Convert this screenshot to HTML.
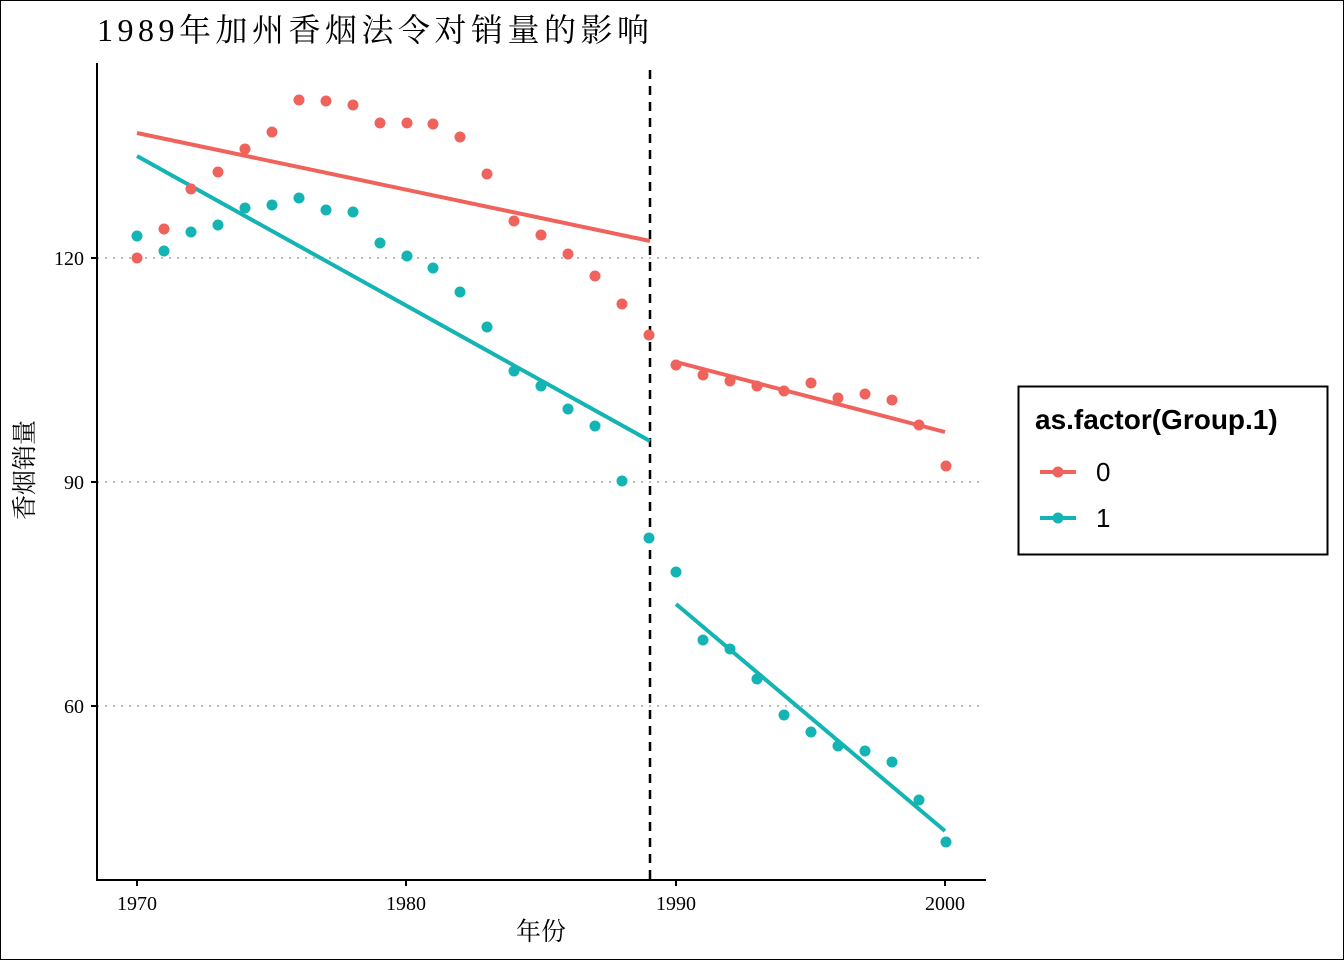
<!DOCTYPE html>
<html><head><meta charset="utf-8"><style>
body{margin:0;background:#fff}
svg text{font-family:"Liberation Serif","Noto Serif CJK SC",serif}
</style></head><body>
<svg width="1344" height="960" viewBox="0 0 1344 960" xmlns="http://www.w3.org/2000/svg">
<rect x="0.5" y="0.5" width="1343" height="959" fill="#fff" stroke="#000"/>
<text x="97" y="41" font-size="32" letter-spacing="4.5">1989年加州香烟法令对销量的影响</text>
<g stroke="#bbb" stroke-width="2" stroke-dasharray="2,6">
<line x1="97" y1="258" x2="985" y2="258"/><line x1="97" y1="482" x2="985" y2="482"/><line x1="97" y1="706" x2="985" y2="706"/>
</g>
<line x1="97" y1="63" x2="97" y2="881" stroke="#000" stroke-width="2"/>
<line x1="96" y1="880" x2="986" y2="880" stroke="#000" stroke-width="2"/>
<g stroke="#000" stroke-width="2">
<line x1="91" y1="258" x2="97" y2="258"/><line x1="91" y1="482" x2="97" y2="482"/><line x1="91" y1="706" x2="97" y2="706"/>
<line x1="137" y1="880" x2="137" y2="886"/><line x1="406" y1="880" x2="406" y2="886"/><line x1="676" y1="880" x2="676" y2="886"/><line x1="945" y1="880" x2="945" y2="886"/>
</g>
<g font-size="20" text-anchor="end"><text x="84" y="265">120</text><text x="84" y="489">90</text><text x="84" y="713">60</text></g>
<g font-size="20" text-anchor="middle"><text x="137" y="910">1970</text><text x="406" y="910">1980</text><text x="676" y="910">1990</text><text x="945" y="910">2000</text></g>
<text x="541" y="940" font-size="25" text-anchor="middle">年份</text>
<text transform="translate(33,470) rotate(-90)" font-size="25" text-anchor="middle">香烟销量</text>
<line x1="650" y1="70" x2="650" y2="880" stroke="#000" stroke-width="2.5" stroke-dasharray="9,7"/>
<g stroke-width="4">
<line x1="137" y1="133" x2="650" y2="241" stroke="#F0635C"/>
<line x1="676" y1="362" x2="945" y2="432" stroke="#F0635C"/>
<line x1="137" y1="156" x2="650" y2="441" stroke="#14B4B4"/>
<line x1="676" y1="604" x2="945" y2="831" stroke="#14B4B4"/>
</g>
<g fill="#F0635C">
<circle cx="137" cy="258" r="5.5"/><circle cx="164" cy="229" r="5.5"/><circle cx="191" cy="189" r="5.5"/><circle cx="218" cy="172" r="5.5"/><circle cx="245" cy="149" r="5.5"/><circle cx="272" cy="132" r="5.5"/><circle cx="299" cy="100" r="5.5"/><circle cx="326" cy="101" r="5.5"/><circle cx="353" cy="105" r="5.5"/><circle cx="380" cy="123" r="5.5"/><circle cx="407" cy="123" r="5.5"/><circle cx="433" cy="124" r="5.5"/><circle cx="460" cy="137" r="5.5"/><circle cx="487" cy="174" r="5.5"/><circle cx="514" cy="221" r="5.5"/><circle cx="541" cy="235" r="5.5"/><circle cx="568" cy="254" r="5.5"/><circle cx="595" cy="276" r="5.5"/><circle cx="622" cy="304" r="5.5"/><circle cx="649" cy="335" r="5.5"/><circle cx="676" cy="365" r="5.5"/><circle cx="703" cy="375" r="5.5"/><circle cx="730" cy="381" r="5.5"/><circle cx="757" cy="386" r="5.5"/><circle cx="784" cy="391" r="5.5"/><circle cx="811" cy="383" r="5.5"/><circle cx="838" cy="398" r="5.5"/><circle cx="865" cy="394" r="5.5"/><circle cx="892" cy="400" r="5.5"/><circle cx="919" cy="425" r="5.5"/><circle cx="946" cy="466" r="5.5"/>
</g>
<g fill="#14B4B4">
<circle cx="137" cy="236" r="5.5"/><circle cx="164" cy="251" r="5.5"/><circle cx="191" cy="232" r="5.5"/><circle cx="218" cy="225" r="5.5"/><circle cx="245" cy="208" r="5.5"/><circle cx="272" cy="205" r="5.5"/><circle cx="299" cy="198" r="5.5"/><circle cx="326" cy="210" r="5.5"/><circle cx="353" cy="212" r="5.5"/><circle cx="380" cy="243" r="5.5"/><circle cx="407" cy="256" r="5.5"/><circle cx="433" cy="268" r="5.5"/><circle cx="460" cy="292" r="5.5"/><circle cx="487" cy="327" r="5.5"/><circle cx="514" cy="371" r="5.5"/><circle cx="541" cy="386" r="5.5"/><circle cx="568" cy="409" r="5.5"/><circle cx="595" cy="426" r="5.5"/><circle cx="622" cy="481" r="5.5"/><circle cx="649" cy="538" r="5.5"/><circle cx="676" cy="572" r="5.5"/><circle cx="703" cy="640" r="5.5"/><circle cx="730" cy="649" r="5.5"/><circle cx="757" cy="679" r="5.5"/><circle cx="784" cy="715" r="5.5"/><circle cx="811" cy="732" r="5.5"/><circle cx="838" cy="746" r="5.5"/><circle cx="865" cy="751" r="5.5"/><circle cx="892" cy="762" r="5.5"/><circle cx="919" cy="800" r="5.5"/><circle cx="946" cy="842" r="5.5"/>
</g>
<rect x="1018.5" y="386.5" width="309" height="168" fill="#fff" stroke="#000" stroke-width="2"/>
<text x="1035" y="429" font-weight="bold" font-size="28" style="font-family:'Liberation Sans',sans-serif">as.factor(Group.1)</text>
<line x1="1040" y1="472" x2="1076" y2="472" stroke="#F0635C" stroke-width="4"/><circle cx="1058" cy="472" r="5.5" fill="#F0635C"/>
<line x1="1040" y1="518" x2="1076" y2="518" stroke="#14B4B4" stroke-width="4"/><circle cx="1058" cy="518" r="5.5" fill="#14B4B4"/>
<text x="1096" y="481" font-size="26" style="font-family:'Liberation Sans',sans-serif">0</text>
<text x="1096" y="527" font-size="26" style="font-family:'Liberation Sans',sans-serif">1</text>
</svg>
</body></html>
